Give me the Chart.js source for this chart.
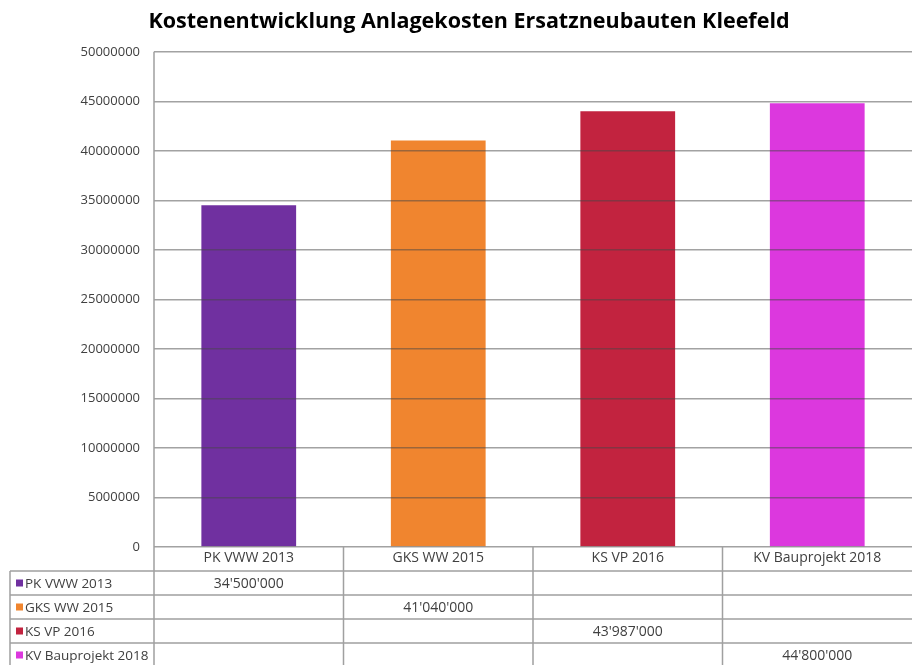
<!DOCTYPE html>
<html><head><meta charset="utf-8">
<script src="https://cdn.jsdelivr.net/npm/chart.js@4.4.0/dist/chart.umd.min.js"></script>
<style>html,body{margin:0;padding:0;background:#fff;overflow:hidden} canvas{display:block}</style>
</head><body>
<canvas id="c" width="912" height="665"></canvas>
<script>
const titleText = 'Kostenentwicklung Anlagekosten Ersatzneubauten Kleefeld';
const categories = ['PK VWW 2013', 'GKS WW 2015', 'KS VP 2016', 'KV Bauprojekt 2018'];
const seriesNames = ['PK VWW 2013', 'GKS WW 2015', 'KS VP 2016', 'KV Bauprojekt 2018'];
const seriesValues = [34500000, 41040000, 43987000, 44800000];
const seriesColors = ['#7030A0', '#F0852F', '#C2233F', '#DC38DE'];
const yTickValues = [0, 5000000, 10000000, 15000000, 20000000, 25000000, 30000000, 35000000, 40000000, 45000000, 50000000];

const FONT = "'Open Sans', 'Liberation Sans', sans-serif";
const TEXT_COLOR = '#404040';
const LINE_COLOR = '#a0a0a0';

function fmtSwiss(v) {
  return String(v).replace(/\B(?=(\d{3})+(?!\d))/g, "'");
}

const datasets = seriesNames.map((name, i) => ({
  label: name,
  data: categories.map((c, j) => (j === i ? seriesValues[i] : null)),
  backgroundColor: seriesColors[i],
  borderWidth: 0,
  categoryPercentage: 0.5,
  barPercentage: 1.0,
  skipNull: true
}));

const tablePlugin = {
  id: 'dataTable',
  afterDraw(chart) {
    const ctx = chart.ctx;
    const xs = chart.scales.x;
    const ca = chart.chartArea;
    const n = categories.length;
    const headerTop = ca.bottom;
    const rowTop0 = xs.bottom;
    const rowH = 24;
    const tableLeft = 10;
    const right = chart.width;
    const tableBottom = rowTop0 + rowH * seriesNames.length;
    const bounds = [ca.left];
    for (let j = 0; j < n - 1; j++) {
      bounds.push((xs.getPixelForValue(j) + xs.getPixelForValue(j + 1)) / 2);
    }

    ctx.save();
    ctx.strokeStyle = LINE_COLOR;
    ctx.lineWidth = 1.5;
    ctx.beginPath();
    // value axis line continuing through the table
    ctx.moveTo(ca.left, ca.top); ctx.lineTo(ca.left, tableBottom);
    // table verticals
    ctx.moveTo(tableLeft, rowTop0); ctx.lineTo(tableLeft, tableBottom);
    for (let j = 1; j < bounds.length; j++) {
      ctx.moveTo(bounds[j], headerTop); ctx.lineTo(bounds[j], tableBottom);
    }
    // horizontals
    for (let r = 0; r <= seriesNames.length; r++) {
      const y = rowTop0 + rowH * r;
      ctx.moveTo(tableLeft, y); ctx.lineTo(right, y);
    }
    ctx.stroke();

    ctx.textBaseline = 'middle';
    for (let r = 0; r < seriesNames.length; r++) {
      const yc = rowTop0 + rowH * r + rowH / 2;
      ctx.fillStyle = seriesColors[r];
      ctx.fillRect(16, yc - 3.5, 7, 7);
      ctx.fillStyle = TEXT_COLOR;
      ctx.textAlign = 'left';
      ctx.font = '13.5px ' + FONT;
      ctx.fillText(seriesNames[r], 25, yc + 1);
      ctx.font = '14px ' + FONT;
      const ds = chart.data.datasets[r];
      ds.data.forEach((v, j) => {
        if (v === null || v === undefined) return;
        ctx.textAlign = 'center';
        ctx.fillText(fmtSwiss(v), xs.getPixelForValue(j), yc + 1);
      });
    }
    ctx.restore();
  }
};

new Chart(document.getElementById('c'), {
  type: 'bar',
  data: { labels: categories, datasets },
  options: {
    responsive: false,
    animation: false,
    layout: { padding: { left: 26, right: 0, top: 0, bottom: 94 } },
    plugins: {
      legend: { display: false },
      tooltip: { enabled: false },
      title: {
        display: true,
        text: titleText,
        color: '#000',
        font: { family: FONT, size: 21.5, weight: 'bold' },
        padding: { top: 9, bottom: 17 }
      }
    },
    scales: {
      x: {
        grid: { display: false, drawTicks: false },
        border: { display: false },
        ticks: { color: TEXT_COLOR, font: { family: FONT, size: 14 }, padding: 3, maxRotation: 0 },
        afterFit(s) { s.height = 24; }
      },
      y: {
        min: 0,
        max: 50000000,
        afterBuildTicks(s) { s.ticks = yTickValues.map(v => ({ value: v })); },
        grid: { color: 'rgba(70,70,70,0.5)', lineWidth: 1.5, drawTicks: false, z: 1 },
        border: { display: false },
        ticks: {
          color: TEXT_COLOR,
          font: { family: FONT, size: 13 },
          padding: 14,
          callback: v => String(v)
        },
        afterFit(s) { s.width = 128; }
      }
    }
  },
  plugins: [tablePlugin]
});
</script>
</body></html>
